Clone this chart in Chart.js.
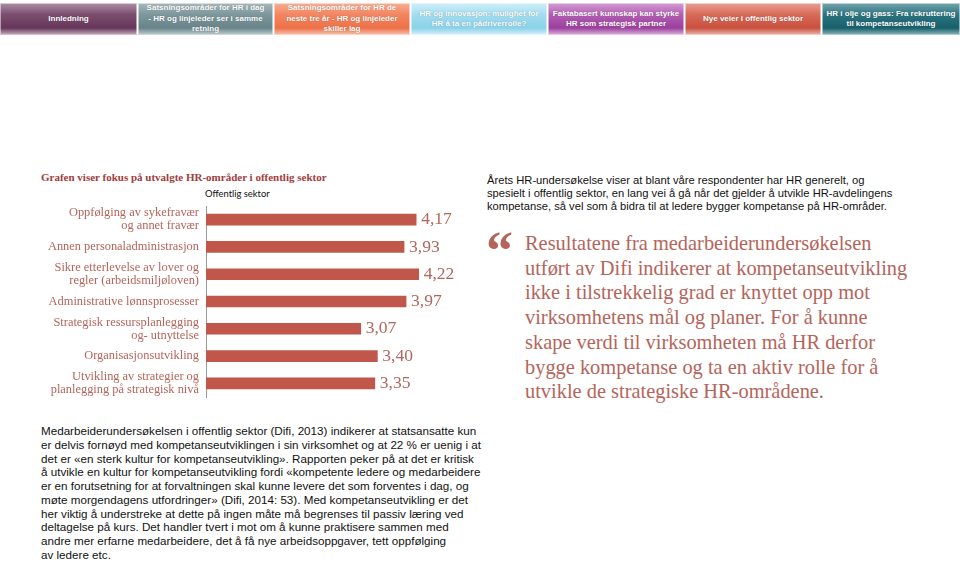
<!DOCTYPE html>
<html>
<head>
<meta charset="utf-8">
<script src="https://cdn.jsdelivr.net/npm/chart.js@4.4.0/dist/chart.umd.min.js"></script>
<style>
  html,body{margin:0;padding:0;background:#fff;width:960px;height:561px;overflow:hidden;position:relative;}
  .tab{position:absolute;top:3px;height:32px;display:flex;align-items:center;justify-content:center;text-align:center;white-space:nowrap;
       font-family:"Liberation Sans",Arial,sans-serif;font-weight:bold;font-size:8px;line-height:10.5px;color:#fff;
       text-shadow:0 0 1px rgba(0,0,0,0.35);box-sizing:border-box;border:1px solid rgba(255,255,255,0.5);}
  .abs{position:absolute;}
  .sans{font-family:"Liberation Sans",Arial,sans-serif;color:#111;}
  .serif{font-family:"Liberation Serif","Times New Roman",serif;}
</style>
</head>
<body>
<div class="tab" style="left:0;width:137px;background:linear-gradient(#a98aa2 0%,#7b4d6f 35%,#653659 80%,#b9a0b2 100%);">Innledning</div>
<div class="tab" style="left:138px;width:135px;background:linear-gradient(#a3b6ba 0%,#7d979c 35%,#688389 80%,#b5c5c8 100%);">Satsningsområder for HR i dag<br>- HR og linjeleder ser i samme<br>retning</div>
<div class="tab" style="left:274px;width:136px;background:linear-gradient(#f7ab8e 0%,#f38560 35%,#ee7148 80%,#f6b8a2 100%);">Satsningsområder for HR de<br>neste tre år - HR og linjeleder<br>skiller lag</div>
<div class="tab" style="left:411px;width:136px;background:linear-gradient(#cdeef8 0%,#a2dcf0 35%,#8ad2e8 80%,#cdeef8 100%);">HR og innovasjon: mulighet for<br>HR å ta en pådriverrolle?</div>
<div class="tab" style="left:548px;width:136px;background:linear-gradient(#d197d2 0%,#b25eb2 35%,#9c3f9e 80%,#d3a6d3 100%);">Faktabasert kunnskap kan styrke<br>HR som strategisk partner</div>
<div class="tab" style="left:685px;width:136px;background:linear-gradient(#e89c8e 0%,#d86a58 35%,#c9503e 80%,#e5aaa0 100%);">Nye veier i offentlig sektor</div>
<div class="tab" style="left:822px;width:138px;background:linear-gradient(#6ea2aa 0%,#2c7480 35%,#165f6b 80%,#7faab0 100%);">HR i olje og gass: Fra rekruttering<br>til kompetanseutvikling</div>

<div class="abs serif" style="left:41px;top:171px;font-size:11px;font-weight:bold;color:#a13c3c;white-space:nowrap;">Grafen viser fokus på utvalgte HR-områder i offentlig sektor</div>
<div class="abs" style="left:205px;top:188px;font-family:Lato,'Open Sans',sans-serif;font-size:9.4px;color:#111;white-space:nowrap;">Offentlig sektor</div>

<div class="abs" style="left:30px;top:196px;width:440px;height:206px;"><canvas id="c"></canvas></div>

<div class="abs sans" style="left:487px;top:174px;font-size:11.2px;line-height:13.1px;white-space:nowrap;">Årets HR-undersøkelse viser at blant våre respondenter har HR generelt, og<br>spesielt i offentlig sektor, en lang vei å gå når det gjelder å utvikle HR-avdelingens<br>kompetanse, så vel som å bidra til at ledere bygger kompetanse på HR-områder.</div>

<div class="abs serif" style="left:486px;top:224px;font-size:54px;line-height:54px;font-weight:bold;color:#b5645a;">&#8220;</div>
<div class="abs serif" style="left:525px;top:231px;font-size:20.4px;line-height:24.7px;color:#b5645a;white-space:nowrap;">Resultatene fra medarbeiderundersøkelsen<br>utført av Difi indikerer at kompetanseutvikling<br>ikke i tilstrekkelig grad er knyttet opp mot<br>virksomhetens mål og planer. For å kunne<br>skape verdi til virksomheten må HR derfor<br>bygge kompetanse og ta en aktiv rolle for å<br>utvikle de strategiske HR-områdene.</div>

<div class="abs sans" style="left:41px;top:424px;font-size:11.65px;line-height:13.75px;white-space:nowrap;">Medarbeiderundersøkelsen i offentlig sektor (Difi, 2013) indikerer at statsansatte kun<br>er delvis fornøyd med kompetanseutviklingen i sin virksomhet og at 22 % er uenig i at<br>det er «en sterk kultur for kompetanseutvikling». Rapporten peker på at det er kritisk<br>å utvikle en kultur for kompetanseutvikling fordi «kompetente ledere og medarbeidere<br>er en forutsetning for at forvaltningen skal kunne levere det som forventes i dag, og<br>møte morgendagens utfordringer» (Difi, 2014: 53). Med kompetanseutvikling er det<br>her viktig å understreke at dette på ingen måte må begrenses til passiv læring ved<br>deltagelse på kurs. Det handler tvert i mot om å kunne praktisere sammen med<br>andre mer erfarne medarbeidere, det å få nye arbeidsoppgaver, tett oppfølging<br>av ledere etc.</div>

<script>
const categories = [
  ["Oppfølging av sykefravær", "og annet fravær"],
  "Annen personaladministrasjon",
  ["Sikre etterlevelse av lover og", "regler (arbeidsmiljøloven)"],
  "Administrative lønnsprosesser",
  ["Strategisk ressursplanlegging", "og- utnyttelse"],
  "Organisasjonsutvikling",
  ["Utvikling av strategier og", "planlegging på strategisk nivå"]
];
const values = [4.17, 3.93, 4.22, 3.97, 3.07, 3.40, 3.35];
const seriesName = "Offentlig sektor";

const labelColor = "#b5645a";
const barColor = "#c0574a";

const valueLabels = {
  id: "valueLabels",
  afterDatasetsDraw(chart) {
    const ctx = chart.ctx;
    const meta = chart.getDatasetMeta(0);
    ctx.save();
    ctx.font = "17.5px 'Liberation Serif', 'Times New Roman', serif";
    ctx.fillStyle = "#b0665c";
    ctx.textAlign = "left";
    ctx.textBaseline = "middle";
    meta.data.forEach((bar, i) => {
      const txt = values[i].toFixed(2).replace(".", ",");
      ctx.fillText(txt, bar.x + 5, bar.y);
    });
    ctx.restore();
  }
};

new Chart(document.getElementById("c"), {
  type: "bar",
  data: {
    labels: categories,
    datasets: [{
      label: seriesName,
      data: values,
      backgroundColor: barColor,
      borderWidth: 0,
      barThickness: 11
    }]
  },
  options: {
    indexAxis: "y",
    responsive: true,
    maintainAspectRatio: false,
    animation: false,
    layout: { padding: { top: 10, bottom: 5, right: 12, left: 0 } },
    plugins: { legend: { display: false }, tooltip: { enabled: false } },
    scales: {
      x: { display: false, min: 0, max: 5 },
      y: {
        afterFit(scale) { scale.width = 176; scale.paddingTop = 0; scale.paddingBottom = 0; },
        grid: { display: false, drawTicks: false },
        border: { display: true, color: "#9a9a9a", width: 1 },
        ticks: {
          autoSkip: false,
          padding: 7,
          color: labelColor,
          font: { family: "'Liberation Serif', 'Times New Roman', serif", size: 12.4, lineHeight: 1.05 }
        }
      }
    }
  },
  plugins: [valueLabels]
});
</script>
</body>
</html>
